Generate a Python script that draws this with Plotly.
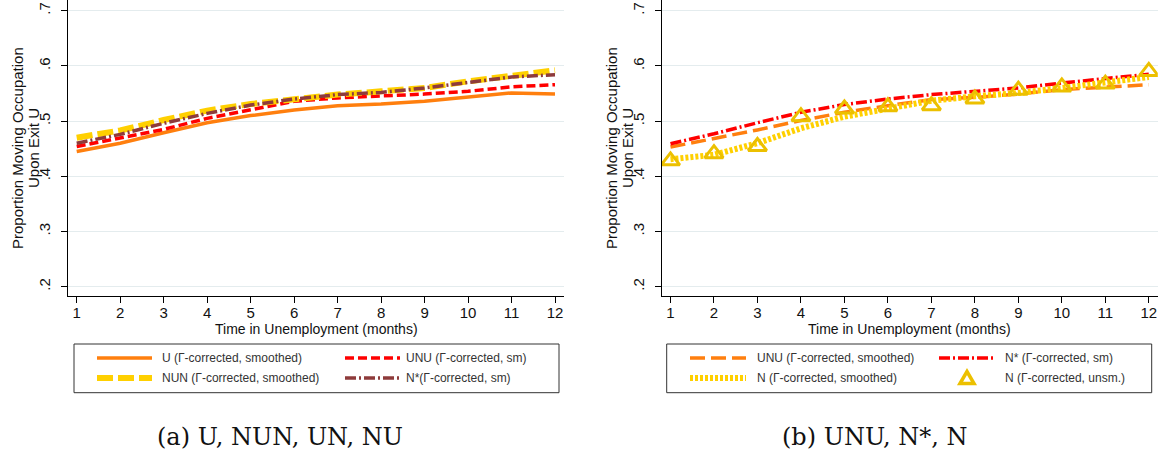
import plotly.graph_objects as go

W, H = 1161, 458

months = list(range(1, 13))
x_ticks = list(range(1, 13))
y_tick_vals = [0.2, 0.3, 0.4, 0.5, 0.6, 0.7]
y_tick_text = [".2", ".3", ".4", ".5", ".6", ".7"]

# Panel (a)
u_smoothed = [0.445, 0.460, 0.479, 0.497, 0.510, 0.520, 0.528, 0.531, 0.536, 0.543, 0.551, 0.549]
unu_sm_a = [0.454, 0.469, 0.485, 0.505, 0.520, 0.536, 0.542, 0.545, 0.549, 0.554, 0.562, 0.566]
nun_smoothed = [0.470, 0.483, 0.502, 0.519, 0.531, 0.540, 0.548, 0.554, 0.560, 0.572, 0.582, 0.592]
nstar_sm_a = [0.460, 0.476, 0.496, 0.514, 0.529, 0.540, 0.548, 0.552, 0.560, 0.570, 0.580, 0.584]

# Panel (b)
unu_smoothed_b = [0.453, 0.468, 0.484, 0.501, 0.516, 0.528, 0.539, 0.543, 0.549, 0.557, 0.562, 0.566]
nstar_sm_b = [0.459, 0.477, 0.497, 0.516, 0.530, 0.540, 0.548, 0.554, 0.560, 0.569, 0.577, 0.585]
n_smoothed = [0.431, 0.439, 0.460, 0.487, 0.508, 0.523, 0.537, 0.545, 0.551, 0.560, 0.569, 0.580]
n_unsmoothed = [0.428, 0.441, 0.454, 0.508, 0.522, 0.526, 0.528, 0.540, 0.556, 0.562, 0.567, 0.590]

names_a = ["U (Γ-corrected, smoothed)", "UNU (Γ-corrected, sm)",
           "NUN (Γ-corrected, smoothed)", "N*(Γ-corrected, sm)"]
names_b = ["UNU (Γ-corrected, smoothed)", "N* (Γ-corrected, sm)",
           "N (Γ-corrected, smoothed)", "N (Γ-corrected, unsm.)"]
captions = ["(a) U, NUN, UN, NU", "(b) UNU, N*, N"]
x_title = "Time in Unemployment (months)"
y_title_lines = ["Proportion Moving Occupation", "Upon Exit U"]

ORANGE = "#ff7f0e"
RED = "#ff0000"
GOLD = "#ffd000"
GOLD_DARK = "#ecc000"
BROWN = "#8e3b3b"
SANS = "Liberation Sans, Arial, sans-serif"

STYLE_U = dict(color=ORANGE, width=3.5)
STYLE_UNU_A = dict(color=RED, width=3.5, dash="9px,4px")
STYLE_NUN = dict(color=GOLD, width=6, dash="16px,5px")
STYLE_NSTAR_A = dict(color=BROWN, width=3.5, dash="11px,3px,2px,3px")
STYLE_UNU_B = dict(color=ORANGE, width=3.5, dash="15px,6px")
STYLE_NSTAR_B = dict(color=RED, width=3.5, dash="11px,3px,2px,3px")
STYLE_N_SM = dict(color=GOLD, width=6, dash="3px,2px")


def px_x(p):
    return p / W


def px_y(p):
    return (H - p) / H


fig = go.Figure()

# ---- Panel (a) traces
fig.add_trace(go.Scatter(x=months, y=u_smoothed, mode="lines", name=names_a[0],
                         line=STYLE_U, xaxis="x", yaxis="y"))
fig.add_trace(go.Scatter(x=months, y=unu_sm_a, mode="lines", name=names_a[1],
                         line=STYLE_UNU_A, xaxis="x", yaxis="y"))
fig.add_trace(go.Scatter(x=months, y=nun_smoothed, mode="lines", name=names_a[2],
                         line=STYLE_NUN, xaxis="x", yaxis="y"))
fig.add_trace(go.Scatter(x=months, y=nstar_sm_a, mode="lines", name=names_a[3],
                         line=STYLE_NSTAR_A, xaxis="x", yaxis="y"))

# ---- Panel (b) traces
fig.add_trace(go.Scatter(x=months, y=unu_smoothed_b, mode="lines", name=names_b[0],
                         line=STYLE_UNU_B, xaxis="x2", yaxis="y2"))
fig.add_trace(go.Scatter(x=months, y=nstar_sm_b, mode="lines", name=names_b[1],
                         line=STYLE_NSTAR_B, xaxis="x2", yaxis="y2"))
fig.add_trace(go.Scatter(x=months, y=n_smoothed, mode="lines", name=names_b[2],
                         line=STYLE_N_SM, xaxis="x2", yaxis="y2"))
fig.add_trace(go.Scatter(x=months, y=n_unsmoothed, mode="markers", name=names_b[3],
                         marker=dict(symbol="triangle-up-open", size=16, color=GOLD_DARK,
                                     line=dict(color=GOLD_DARK, width=3)),
                         xaxis="x2", yaxis="y2"))

x_range = [0.793, 12.207]
y_range = [0.1837, 0.7194]
y_dom = [px_y(295.7), 1.0]

xaxis_common = dict(range=x_range, tickmode="array", tickvals=x_ticks,
                    ticks="outside", ticklen=6, tickcolor="#000", tickwidth=1,
                    ticklabelstandoff=-3,
                    showline=True, linecolor="#000", linewidth=1, showgrid=False,
                    zeroline=False, tickfont=dict(family=SANS, size=15, color="#111"),
                    fixedrange=True, automargin=False)
yaxis_common = dict(range=y_range, domain=y_dom, tickmode="array", tickvals=y_tick_vals,
                    ticktext=y_tick_text, tickangle=-90,
                    ticks="outside", ticklen=6, tickcolor="#000", tickwidth=1,
                    ticklabelstandoff=5,
                    showline=True, linecolor="#000", linewidth=1,
                    showgrid=True, gridcolor="#e4ecee", gridwidth=1,
                    zeroline=False, tickfont=dict(family=SANS, size=15, color="#111"),
                    fixedrange=True, automargin=False)

fig.update_layout(
    width=W, height=H,
    margin=dict(l=0, r=0, t=0, b=0, autoexpand=False),
    paper_bgcolor="white", plot_bgcolor="white",
    xaxis=dict(domain=[px_x(67.7), px_x(564)], anchor="y", **xaxis_common),
    yaxis=dict(anchor="x", **yaxis_common),
    xaxis2=dict(domain=[px_x(661.5), px_x(1157.8)], anchor="y2", **xaxis_common),
    yaxis2=dict(anchor="x2", **yaxis_common),
    showlegend=False,
)

shapes = []
annotations = []

# legend boxes
for x0, x1 in [(74, 559), (666.7, 1151.7)]:
    shapes.append(dict(type="rect", xref="paper", yref="paper",
                       x0=px_x(x0), x1=px_x(x1), y0=px_y(392.7), y1=px_y(344),
                       line=dict(color="#333", width=1), fillcolor="rgba(0,0,0,0)"))

ROW1, ROW2 = 358, 378
legend_entries = [
    # (key_x0, key_x1, text_x, row, style, label)
    (97, 152, 160, ROW1, STYLE_U, names_a[0]),
    (345, 400, 404, ROW1, STYLE_UNU_A, names_a[1]),
    (97, 152, 160, ROW2, STYLE_NUN, names_a[2]),
    (345, 400, 404, ROW2, STYLE_NSTAR_A, names_a[3]),
    (690, 746, 755, ROW1, STYLE_UNU_B, names_b[0]),
    (939, 995, 1003, ROW1, STYLE_NSTAR_B, names_b[1]),
    (690, 746, 755, ROW2, STYLE_N_SM, names_b[2]),
]
for kx0, kx1, tx, row, style, label in legend_entries:
    shapes.append(dict(type="line", xref="paper", yref="paper",
                       x0=px_x(kx0), x1=px_x(kx1), y0=px_y(row), y1=px_y(row),
                       line=dict(color=style["color"], width=style["width"],
                                 dash=style.get("dash", "solid"))))
    annotations.append(dict(text=label, x=px_x(tx), y=px_y(row), xref="paper", yref="paper",
                            showarrow=False, xanchor="left", yanchor="middle",
                            font=dict(family=SANS, size=12, color="#333")))

# triangle key for unsmoothed N
tcx, tcy = 967, ROW2
tri = "M {:.5f},{:.5f} L {:.5f},{:.5f} L {:.5f},{:.5f} Z".format(
    px_x(tcx - 7), px_y(tcy + 5.5), px_x(tcx + 7), px_y(tcy + 5.5), px_x(tcx), px_y(tcy - 6.5))
shapes.append(dict(type="path", xref="paper", yref="paper", path=tri,
                   line=dict(color=GOLD_DARK, width=3.5), fillcolor="rgba(0,0,0,0)"))
annotations.append(dict(text=names_b[3], x=px_x(1003), y=px_y(ROW2), xref="paper", yref="paper",
                        showarrow=False, xanchor="left", yanchor="middle",
                        font=dict(family=SANS, size=12, color="#333")))

# axis titles
for cx, ty1, ty2 in [(316, 17.5, 33.5), (909.6, 611.5, 627.5)]:
    annotations.append(dict(text=x_title, x=px_x(cx), y=px_y(328.5), xref="paper", yref="paper",
                            showarrow=False, xanchor="center", yanchor="middle",
                            font=dict(family=SANS, size=14, color="#111")))
    for line_text, tx in [(y_title_lines[0], ty1), (y_title_lines[1], ty2)]:
        annotations.append(dict(text=line_text, x=px_x(tx), y=px_y(148.5), xref="paper", yref="paper",
                                showarrow=False, textangle=-90, xanchor="center", yanchor="middle",
                                font=dict(family=SANS, size=15, color="#111")))
# captions
for cx, cap in [(280, captions[0]), (874, captions[1])]:
    annotations.append(dict(text=cap, x=px_x(cx), y=px_y(437), xref="paper", yref="paper",
                            showarrow=False, xanchor="center", yanchor="middle",
                            font=dict(family="DejaVu Serif, serif", size=24, color="#111")))

fig.update_layout(shapes=shapes, annotations=annotations)

fig.write_html("out.html",
               config={"displayModeBar": False},
               post_script="document.body.style.margin='0px';document.body.style.overflow='hidden';")
